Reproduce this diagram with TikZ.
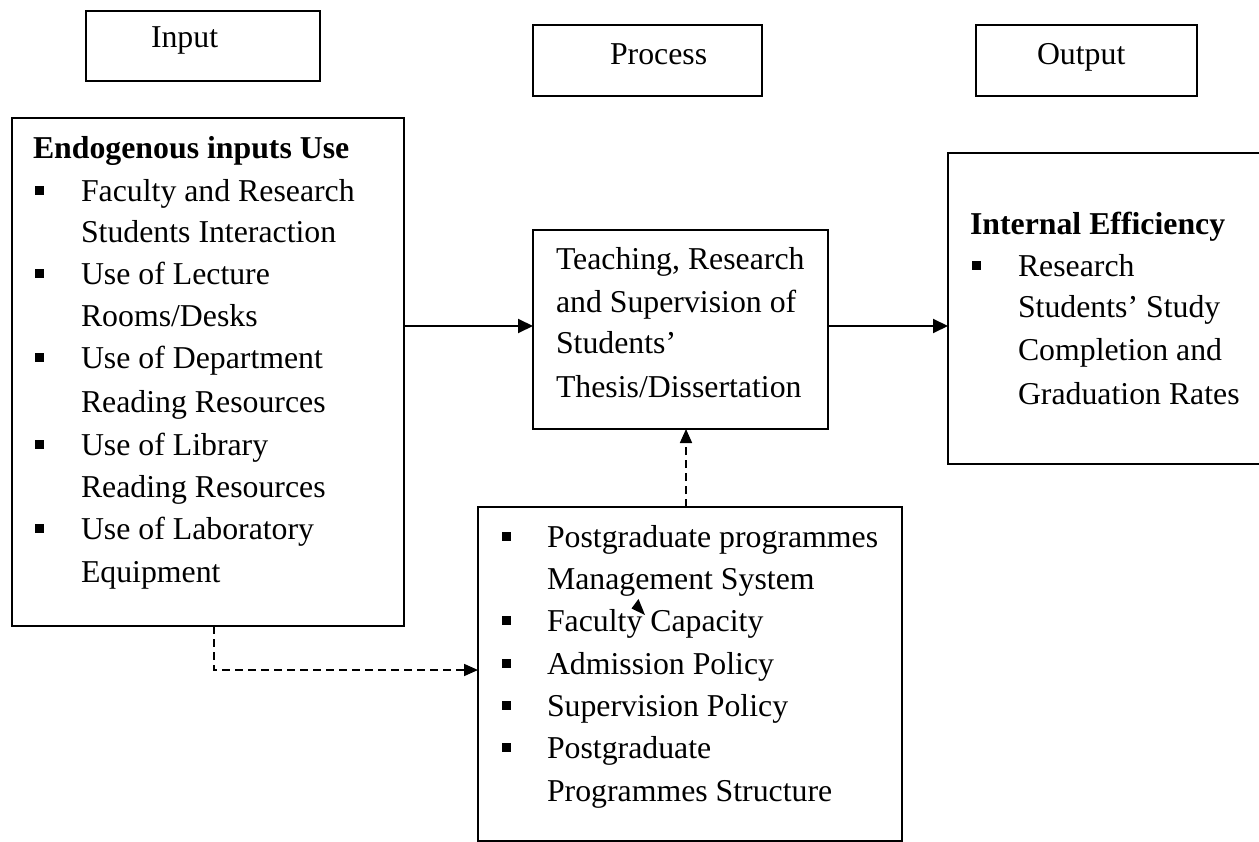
\documentclass[tikz,border=0pt]{standalone}
\usepackage{fontspec}
\setmainfont{Liberation Serif}
\usetikzlibrary{arrows.meta}
\begin{document}
\begin{tikzpicture}[x=1pt,y=-1pt,
  box/.style={draw, line width=2pt, rectangle, inner sep=0pt, outer sep=0pt, anchor=north west},
  txt/.style={anchor=base west, inner sep=0pt, outer sep=0pt, font=\fontsize{31.8}{40}\selectfont},
  btxt/.style={txt, font=\fontsize{31.8}{40}\selectfont\bfseries},
  arr/.style={line width=2pt, -{Triangle[length=15pt,width=14pt]}},
  darr/.style={line width=1.7pt, dash pattern=on 8pt off 5pt, -{Triangle[length=14pt,width=12pt]}}]
\fill[white] (0,0) rectangle (1259,842);
\useasboundingbox (0,0) rectangle (1259,842);

% header boxes
\node[box, minimum width=234pt, minimum height=70pt] (inbox) at (86,11) {};
\node[box, minimum width=229pt, minimum height=71pt] (procbox) at (533,25) {};
\node[box, minimum width=221pt, minimum height=71pt] (outbox) at (976,25) {};
\node[txt] (intxt) at (151,48) {Input};
\node[txt] (proctxt) at (610,65) {Process};
\node[txt] (outtxt) at (1037,65) {Output};

% main boxes
\node[box, minimum width=392pt, minimum height=508pt] (left) at (12,118) {};
\node[box, minimum width=295pt, minimum height=199pt] (cbox) at (533,230) {};
\node[box, minimum width=322pt, minimum height=311pt] (rbox) at (948,153) {};
\node[box, minimum width=424pt, minimum height=334pt] (bbox) at (478,507) {};

% left box text
\node[btxt] (ltitle) at (33,159) {Endogenous inputs Use};
\foreach \t/\yy [count=\i] in {{Faculty and Research}/202, {Students Interaction}/243,
    {Use of Lecture}/285, {Rooms/Desks}/327, {Use of Department}/369, {Reading Resources}/413,
    {Use of Library}/455, {Reading Resources}/497, {Use of Laboratory}/539, {Equipment}/582}
  \node[txt] (l\i) at (81,\yy) {\t};
\foreach \yy in {202,285,369,455,539}
  \fill (35,\yy-15.5) rectangle ++(9,9);

% centre box text
\foreach \t/\yy [count=\i] in {{Teaching, Research}/270, {and Supervision of}/313,
    {Students’}/354, {Thesis/Dissertation}/397}
  \node[txt] (c\i) at (556,\yy) {\t};

% right box text
\node[btxt] (rtitle) at (970,235) {Internal Efficiency};
\foreach \t/\yy [count=\i] in {{Research}/277, {Students’ Study}/318,
    {Completion and}/361, {Graduation Rates}/404}
  \node[txt] (r\i) at (1018,\yy) {\t};
\fill (972,277-15.5) rectangle ++(9,9);

% bottom box text
\foreach \t/\yy [count=\i] in {{Postgraduate programmes}/547, {Management System}/589,
    {Faculty Capacity}/631, {Admission Policy}/674, {Supervision Policy}/716,
    {Postgraduate}/758, {Programmes Structure}/801}
  \node[txt] (b\i) at (547,\yy) {\t};
\foreach \yy in {547,631,674,716,758}
  \fill (502,\yy-15.5) rectangle ++(9,9);

% stray arrowhead
\fill (638.5,599) -- (631.5,608.5) -- (645,615) -- cycle;

% connectors
\coordinate (h1) at (0,326);
\coordinate (h2) at (0,670);
\coordinate (v1) at (686,0);
\coordinate (v2) at (214,0);
\draw[arr] (left.east |- h1) -- (cbox.west |- h1);
\draw[arr] (cbox.east |- h1) -- (rbox.west |- h1);
\draw[darr] (bbox.north -| v1) -- (cbox.south -| v1);
\draw[darr] (left.south -| v2) |- (bbox.west |- h2);
\end{tikzpicture}
\end{document}
